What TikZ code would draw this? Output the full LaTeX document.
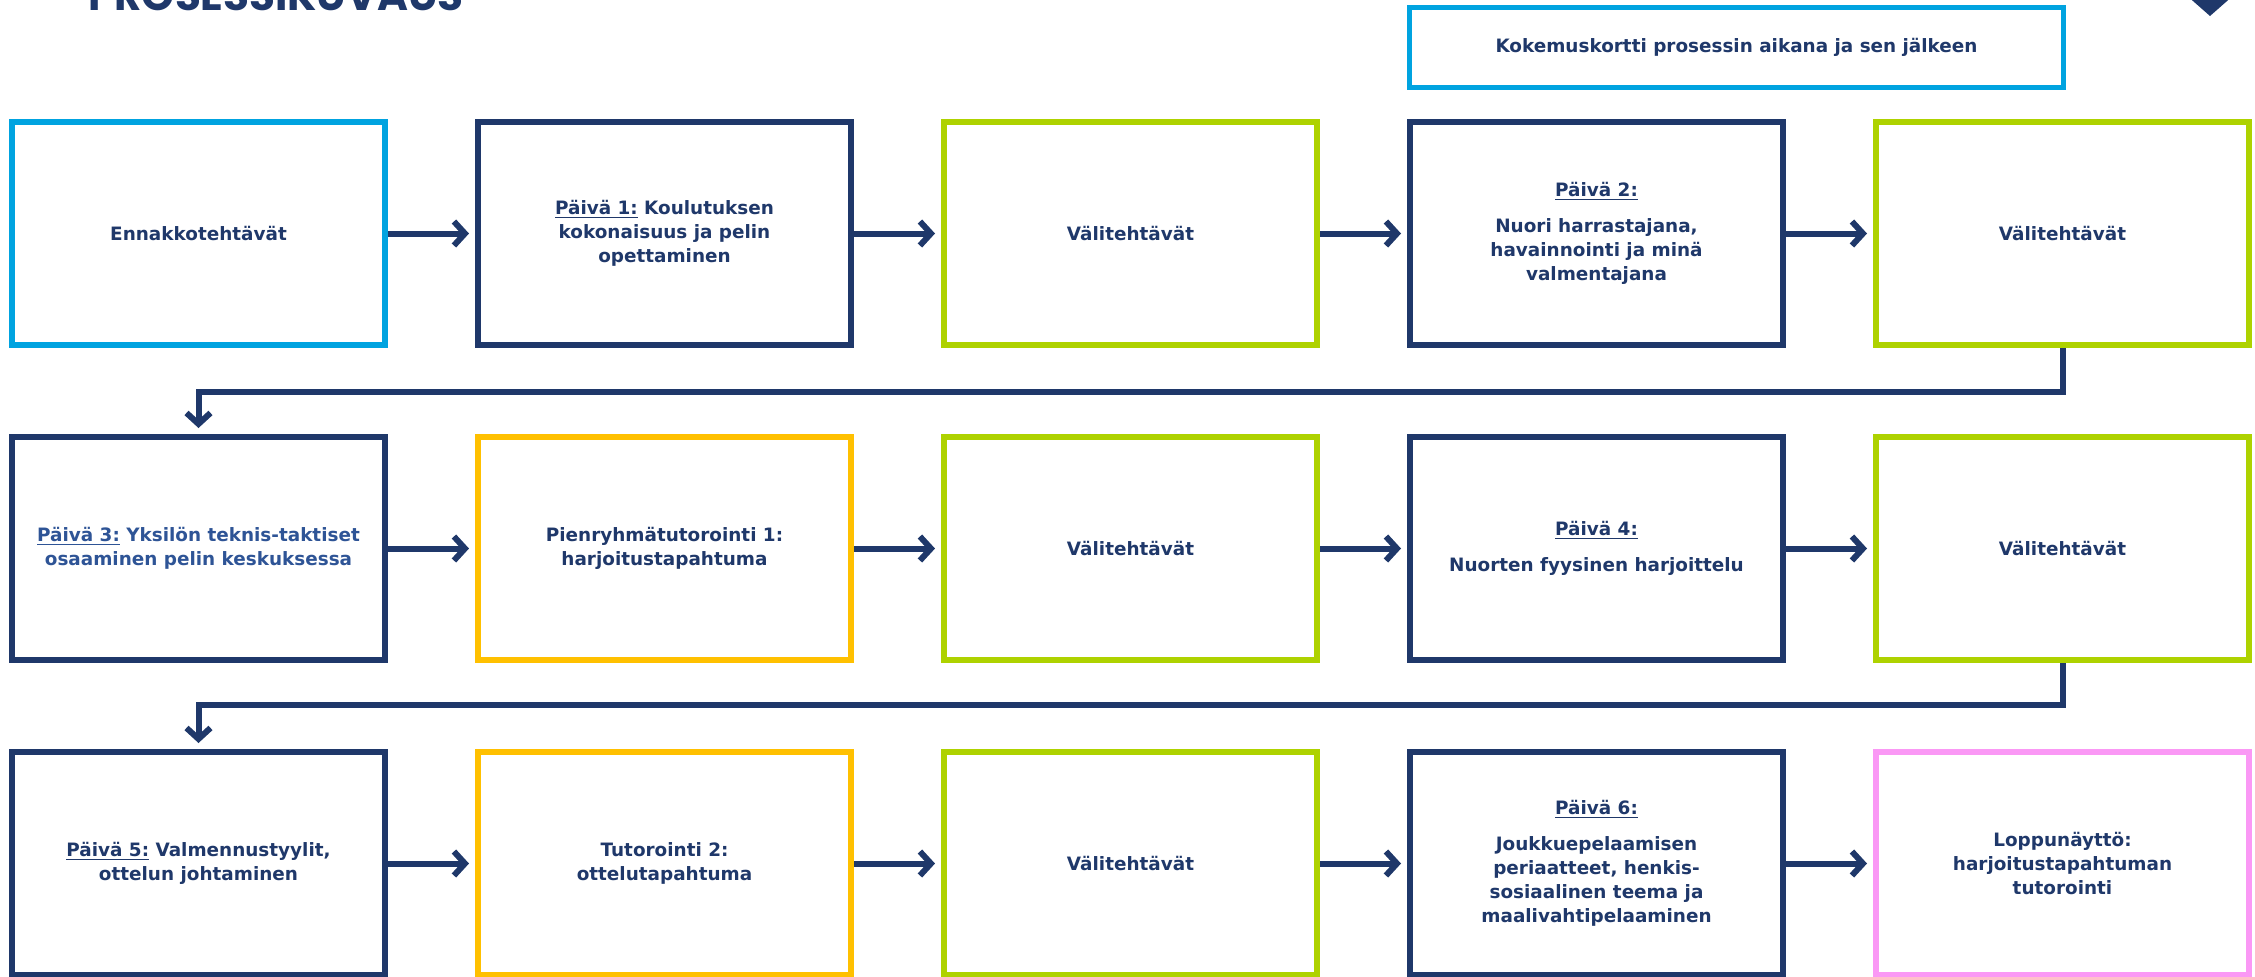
\documentclass[tikz,border=0pt]{standalone}
\usepackage{fontspec}
\setmainfont{DejaVu Sans}
\newfontfamily\otsikko{Poppins}
\usepackage{tikz}
\definecolor{Prk}{RGB}{31,56,106}
\definecolor{Prk1}{RGB}{0,163,224}
\definecolor{Prk2}{RGB}{174,210,0}
\definecolor{Prk3}{RGB}{255,192,0}
\definecolor{Prk4}{RGB}{250,152,245}
\definecolor{Prk5}{RGB}{46,84,150}
\usetikzlibrary{positioning,arrows.meta}
\tikzset{
    laatikko/.style={draw=#1, line width=3pt, fill=white, minimum width=186.5pt,
                     minimum height=111.5pt, align=center, text=Prk, inner sep=2pt,
                     font=\fontsize{9.2}{12}\selectfont\bfseries},
    laatikko/.default=Prk,
    nuoli/.style={draw=Prk, line width=3pt, shorten >=3pt,
                  -{Straight Barb[length=5.5pt,width=12pt]}},
}

\begin{document}
\begin{tikzpicture}[x=0.5pt, y=-0.5pt, node distance=43pt and 43.5pt]
    \useasboundingbox (0,0) rectangle (2255,976);
    \clip (0,0) rectangle (2255,976);
    \node [anchor=base west, inner sep=0, text=Prk,
           font=\otsikko\bfseries\fontsize{21}{25}\selectfont] (otsikko) at (88,10) {PROSESSIKUVAUS};
    \fill [Prk] (2185,-6) -- (2235,-6) -- (2210,16) -- cycle;

    % rivi 1
    \node [laatikko=Prk1] (ennakko) at (198.5,233.5) {Ennakkotehtävät};
    \node [laatikko, right=of ennakko] (paiva1) {\underline{Päivä 1:} Koulutuksen\\kokonaisuus ja pelin\\opettaminen};
    \node [laatikko=Prk2, right=of paiva1] (vali1) {Välitehtävät};
    \node [laatikko, right=of vali1] (paiva2) {\underline{Päivä 2:}\\[6pt]Nuori harrastajana,\\havainnointi ja minä\\valmentajana};
    \node [laatikko=Prk2, right=of paiva2] (vali2) {Välitehtävät};
    \node [laatikko=Prk1, line width=2.5pt, minimum width=327pt, minimum height=40pt,
           anchor=south west] (kortti) at ([yshift=14.5pt]paiva2.north west)
          {Kokemuskortti prosessin aikana ja sen jälkeen};

    % rivi 2
    \node [laatikko, below=of ennakko, text=Prk5] (paiva3) {\underline{Päivä 3:} Yksilön teknis-taktiset\\osaaminen pelin keskuksessa};
    \node [laatikko=Prk3, right=of paiva3] (tutor1) {Pienryhmätutorointi 1:\\harjoitustapahtuma};
    \node [laatikko=Prk2, right=of tutor1] (vali3) {Välitehtävät};
    \node [laatikko, right=of vali3] (paiva4) {\underline{Päivä 4:}\\[6pt]Nuorten fyysinen harjoittelu};
    \node [laatikko=Prk2, right=of paiva4] (vali4) {Välitehtävät};

    % rivi 3
    \node [laatikko, below=of paiva3] (paiva5) {\underline{Päivä 5:} Valmennustyylit,\\ottelun johtaminen};
    \node [laatikko=Prk3, right=of paiva5] (tutor2) {Tutorointi 2:\\ottelutapahtuma};
    \node [laatikko=Prk2, right=of tutor2] (vali5) {Välitehtävät};
    \node [laatikko, right=of vali5] (paiva6) {\underline{Päivä 6:}\\[6pt]Joukkuepelaamisen\\periaatteet, henkis-\\sosiaalinen teema ja\\maalivahtipelaaminen};
    \node [laatikko=Prk4, right=of paiva6] (loppu) {Loppunäyttö:\\harjoitustapahtuman\\tutorointi};

    \draw [nuoli] (ennakko) -- (paiva1);
    \draw [nuoli] (paiva1) -- (vali1);
    \draw [nuoli] (vali1) -- (paiva2);
    \draw [nuoli] (paiva2) -- (vali2);
    \draw [nuoli] (vali2.south) -- ++(0,44) -| (paiva3.north);
    \draw [nuoli] (paiva3) -- (tutor1);
    \draw [nuoli] (tutor1) -- (vali3);
    \draw [nuoli] (vali3) -- (paiva4);
    \draw [nuoli] (paiva4) -- (vali4);
    \draw [nuoli] (vali4.south) -- ++(0,42) -| (paiva5.north);
    \draw [nuoli] (paiva5) -- (tutor2);
    \draw [nuoli] (tutor2) -- (vali5);
    \draw [nuoli] (vali5) -- (paiva6);
    \draw [nuoli] (paiva6) -- (loppu);
\end{tikzpicture}
\end{document}
